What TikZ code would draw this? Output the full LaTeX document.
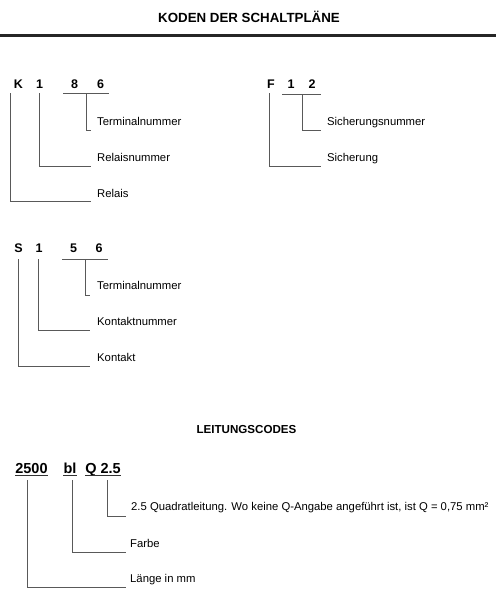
\documentclass[tikz,border=0pt]{standalone}
\usepackage{fontspec}
\setmainfont{Liberation Sans}
\begin{document}
\begin{tikzpicture}[x=1pt,y=-1pt,
  lbl/.style={anchor=base west, inner sep=0pt, font=\fontsize{11.3}{13}\selectfont},
  codech/.style={anchor=base, inner sep=0pt, font=\fontsize{12.5}{15}\selectfont\bfseries},
  wcode/.style={anchor=base, inner sep=0pt, font=\fontsize{14.5}{17}\selectfont\bfseries},
  heading/.style={anchor=base, inner sep=0pt, font=\fontsize{13.3}{16}\selectfont\bfseries},
  subhead/.style={anchor=base, inner sep=0pt, font=\fontsize{11.6}{14}\selectfont\bfseries},
  wire/.style={line width=0.8pt, draw=black!65},
  uline/.style={line width=0.9pt, draw=black!80}]
\useasboundingbox (0,0) rectangle (496,600);

% Title and rule
\node[heading] (title) at (249,22.5) {KODEN DER SCHALTPLÄNE};
\coordinate (r1) at (0,35.5);
\coordinate (r2) at (496,35.5);
\draw[line width=2.6pt, draw=black!85] (r1) -- (r2);

% ---- K 1 8 6 ----
\node[codech] (kK) at (18.5,88) {K};
\node[codech] (k1) at (39.5,88) {1};
\node[codech] (k8) at (74.5,88) {8};
\node[codech] (k6) at (100.5,88) {6};
\coordinate (ku1) at (63,93);
\coordinate (ku2) at (109,93);
\draw[wire] (ku1) -- (ku2);
\coordinate (kt) at (86,93);
\coordinate (kte) at (91,130);
\coordinate (k1t) at (39,93);
\coordinate (k1e) at (91,166);
\coordinate (kKt) at (10,93);
\coordinate (kKe) at (91,201);
\draw[wire] (kt) |- (kte);
\draw[wire] (k1t) |- (k1e);
\draw[wire] (kKt) |- (kKe);
\node[lbl] (kl1) at (97,125) {Terminalnummer};
\node[lbl] (kl2) at (97,161) {Relaisnummer};
\node[lbl] (kl3) at (97,197) {Relais};

% ---- F 1 2 ----
\node[codech] (fF) at (271,88) {F};
\node[codech] (f1) at (291,88) {1};
\node[codech] (f2) at (312,88) {2};
\coordinate (fu1) at (282,94);
\coordinate (fu2) at (321,94);
\draw[wire] (fu1) -- (fu2);
\coordinate (ft) at (302,94);
\coordinate (fte) at (321,130);
\coordinate (fFt) at (269,93);
\coordinate (fFe) at (321,166);
\draw[wire] (ft) |- (fte);
\draw[wire] (fFt) |- (fFe);
\node[lbl] (fl1) at (327,125) {Sicherungsnummer};
\node[lbl] (fl2) at (327,161) {Sicherung};

% ---- S 1 5 6 ----
\node[codech] (sS) at (18.5,252) {S};
\node[codech] (s1) at (39,252) {1};
\node[codech] (s5) at (73.5,252) {5};
\node[codech] (s6) at (99,252) {6};
\coordinate (su1) at (62,259);
\coordinate (su2) at (108,259);
\draw[wire] (su1) -- (su2);
\coordinate (st) at (85,259);
\coordinate (ste) at (90,295);
\coordinate (s1t) at (38,259);
\coordinate (s1e) at (90,330);
\coordinate (sSt) at (18,259);
\coordinate (sSe) at (90,366);
\draw[wire] (st) |- (ste);
\draw[wire] (s1t) |- (s1e);
\draw[wire] (sSt) |- (sSe);
\node[lbl] (sl1) at (97,289) {Terminalnummer};
\node[lbl] (sl2) at (97,325) {Kontaktnummer};
\node[lbl] (sl3) at (97,361) {Kontakt};

% ---- LEITUNGSCODES ----
\node[subhead] (lhead) at (246.5,433) {LEITUNGSCODES};
\node[wcode] (w2500) at (31.5,473) {2500};
\node[wcode] (wbl) at (70,473) {bl};
\node[wcode] (wq) at (103,473) {Q 2.5};
\draw[uline] ([yshift=-2pt]w2500.base west) -- ([yshift=-2pt]w2500.base east);
\draw[uline] ([yshift=-2pt]wbl.base west) -- ([yshift=-2pt]wbl.base east);
\draw[uline] ([yshift=-2pt]wq.base west) -- ([yshift=-2pt]wq.base east);
\coordinate (wqt) at (107,480);
\coordinate (wqe) at (126,516);
\coordinate (wblt) at (72,480);
\coordinate (wble) at (126,552);
\coordinate (w25t) at (27,480);
\coordinate (w25e) at (126,587);
\draw[wire] (wqt) |- (wqe);
\draw[wire] (wblt) |- (wble);
\draw[wire] (w25t) |- (w25e);
\node[lbl] (wl1) at (131,510) {2.5 Quadratleitung. Wo keine Q-Angabe angeführt ist, ist Q = 0,75 mm²};
\node[lbl] (wl2) at (130,547) {Farbe};
\node[lbl] (wl3) at (130,582) {Länge in mm};
\end{tikzpicture}
\end{document}
